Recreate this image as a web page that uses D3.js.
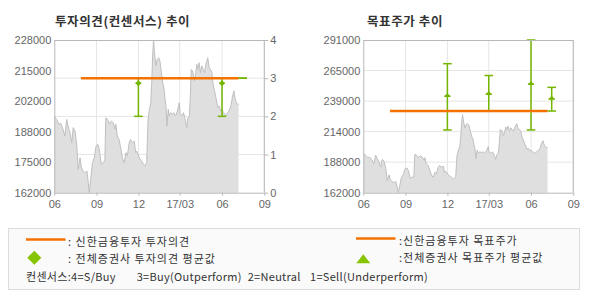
<!DOCTYPE html>
<html><head><meta charset="utf-8">
<script src="https://cdn.jsdelivr.net/npm/d3@7"></script>
<style>body{margin:0;background:#fff;} svg{display:block;}</style>
</head><body><svg id="c" width="590" height="300"></svg>
<script>
// ---------- data ----------
const priceDates = ["2016-06-01","2016-06-06","2016-06-11","2016-06-15","2016-06-20","2016-06-24","2016-06-28","2016-07-01","2016-07-05","2016-07-09","2016-07-12","2016-07-16","2016-07-20","2016-07-23","2016-07-27","2016-07-30","2016-08-03","2016-08-07","2016-08-11","2016-08-14","2016-08-16","2016-08-20","2016-08-23","2016-08-27","2016-08-31","2016-09-04","2016-09-07","2016-09-11","2016-09-15","2016-09-19","2016-09-21","2016-09-25","2016-09-29","2016-10-03","2016-10-07","2016-10-11","2016-10-13","2016-10-16","2016-10-20","2016-10-24","2016-10-27","2016-10-31","2016-11-04","2016-11-07","2016-11-11","2016-11-14","2016-11-18","2016-11-22","2016-11-25","2016-11-27","2016-11-30","2016-12-05","2016-12-08","2016-12-12","2016-12-15","2016-12-19","2016-12-22","2016-12-25","2016-12-28","2016-12-30","2017-01-01","2017-01-03","2017-01-05","2017-01-08","2017-01-11","2017-01-14","2017-01-17","2017-01-20","2017-01-23","2017-01-26","2017-01-28","2017-01-30","2017-02-01","2017-02-04","2017-02-06","2017-02-09","2017-02-13","2017-02-16","2017-02-20","2017-02-24","2017-02-28","2017-03-02","2017-03-06","2017-03-09","2017-03-13","2017-03-16","2017-03-19","2017-03-22","2017-03-24","2017-03-26","2017-03-29","2017-04-02","2017-04-05","2017-04-07","2017-04-09","2017-04-12","2017-04-15","2017-04-18","2017-04-21","2017-04-24","2017-04-27","2017-05-01","2017-05-04","2017-05-07","2017-05-10","2017-05-12","2017-05-15","2017-05-18","2017-05-21","2017-05-23","2017-05-26","2017-05-29","2017-06-01","2017-06-04","2017-06-07","2017-06-10","2017-06-13","2017-06-16","2017-06-19","2017-06-21","2017-06-24","2017-06-27","2017-06-29","2017-07-02","2017-07-05","2017-07-07"];
const priceValues = [195000,193700,191600,192000,189400,186500,193700,190800,188000,183600,190100,188700,182200,172100,177100,172800,171400,170600,171400,166300,162000,169200,175000,177100,182200,182900,180800,174300,175000,175700,194400,193700,191600,193000,192300,189400,191600,186500,185000,180800,177100,175000,179300,177900,183600,185000,183600,184300,179300,180000,178600,176400,175700,174300,173500,175000,193700,198000,200900,209500,221100,228000,222600,216800,219600,220300,218900,213900,209500,206700,202400,199500,190800,198000,195200,196600,195900,196600,195200,197300,200900,195900,195200,196600,193700,190100,194400,195200,203800,215300,214600,210300,213900,217500,215300,218200,213900,216800,215300,213900,217500,220300,216000,215300,213900,209500,206700,203800,200900,198700,199500,197300,198000,196600,195900,195200,196600,197300,198700,200200,203800,206000,203100,200900,200200,200200];

// Shinhan opinion / target price period
const shinhanPeriod = ["2016-07-29","2017-07-07"];
const shinhanOpinion = 3;
const shinhanTarget = 231000;

// consensus opinion (all brokers)
const opDates = ["2016-12-01","2017-06-01","2017-07-16"];
const opMin = [2,2,3];
const opMax = [3,3,3];
const opAvg = [2.87,2.87,null];

// consensus target price (all brokers)
const tpDates = ["2016-12-01","2017-03-01","2017-06-01","2017-07-16"];
const tpMin = [215000,231000,215000,231000];
const tpMax = [271000,261000,291000,251000];
const tpAvg = [243700,245400,253800,241400];

// axes
const xTickDates = ["2016-06-01","2016-09-01","2016-12-01","2017-03-01","2017-06-01","2017-09-01"];
const xTickLabels = ["06","09","12","17/03","06","09"];
const xDomainDates = ["2016-06-01","2017-09-01"];
const leftPriceRange = [162000,228000];
const leftPriceLabels = ["162000","175000","188000","202000","215000","228000"];
const opinionTicks = [0,1,2,3,4];
const rightPriceRange = [162000,291000];
const rightPriceLabels = ["162000","188000","214000","239000","265000","291000"];

const titles = ["투자의견(컨센서스) 추이","목표주가 추이"];
const legendItems = [": 신한금융투자 투자의견",": 전체증권사 투자의견 평균값",":신한금융투자 목표주가",":전체증권사 목표주가 평균값"];
const consensusNote = ["컨센서스:4=S/Buy","3=Buy(Outperform)","2=Neutral","1=Sell(Underperform)"];

// ---------- drawing ----------
const parse = d3.timeParse("%Y-%m-%d");
const svg = d3.select("#c");
const ORANGE = "#f37200", GREEN = "#74b500", AXIS = "#b8b8b8", GRID = "#e6e6e6", LABEL = "#666";
const FONT_NUM = "'Liberation Sans', Arial, sans-serif";
const FONT_KR = "'Noto Sans CJK KR', sans-serif";

const price = priceDates.map((d,i)=>({date:parse(d), v:priceValues[i]}));
const xTicks = xTickDates.map(parse);

function panel(box, priceRange, priceLabels, isLeft) {
  const g = svg.append("g");
  const x = d3.scaleTime().domain(xDomainDates.map(parse)).range([box.x0, box.x1]);
  const yP = d3.scaleLinear().domain(priceRange).range([box.y1, box.y0]);
  const yO = d3.scaleLinear().domain([0,4]).range([box.y1, box.y0]);
  const nLab = priceLabels.length - 1;
  const labVals = priceLabels.map((_,i)=>priceRange[0] + i*(priceRange[1]-priceRange[0])/nLab);

  // grid
  g.append("g").selectAll("line").data(xTicks.slice(1)).join("line")
    .attr("x1",d=>x(d)).attr("x2",d=>x(d)).attr("y1",box.y0).attr("y2",box.y1)
    .attr("stroke",GRID).attr("stroke-width",1);
  const hGrid = isLeft ? opinionTicks.slice(1,4).map(v=>yO(v)) : labVals.slice(1,5).map(v=>yP(v));
  g.append("g").selectAll("line").data(hGrid).join("line")
    .attr("x1",box.x0).attr("x2",box.x1).attr("y1",d=>d).attr("y2",d=>d)
    .attr("stroke",GRID).attr("stroke-width",1);

  // price area
  const area = d3.area().x(d=>x(d.date)).y0(box.y1).y1(d=>yP(d.v));
  const line = d3.line().x(d=>x(d.date)).y(d=>yP(d.v));
  g.append("path").datum(price).attr("d",area).attr("fill","#dfdfdf");
  g.append("path").datum(price).attr("d",line).attr("fill","none").attr("stroke","#c0c0c0").attr("stroke-width",1);

  // error bars
  const dates = isLeft ? opDates : tpDates;
  const mins = isLeft ? opMin : tpMin, maxs = isLeft ? opMax : tpMax, avgs = isLeft ? opAvg : tpAvg;
  const ys = isLeft ? yO : yP;
  dates.forEach((ds,i)=>{
    const cx = x(parse(ds));
    const eg = g.append("g").attr("stroke",GREEN).attr("stroke-width",1.5).attr("fill",GREEN);
    eg.append("line").attr("x1",cx).attr("x2",cx).attr("y1",ys(mins[i])).attr("y2",ys(maxs[i]));
    [mins[i],maxs[i]].forEach(v=>{
      eg.append("line").attr("x1",cx-4.3).attr("x2",cx+4.3).attr("y1",ys(v)).attr("y2",ys(v));
    });
    if (avgs[i] != null) {
      const ay = ys(avgs[i]);
      if (isLeft) {
        eg.append("path").attr("stroke","none")
          .attr("d",`M${cx},${ay-3}L${cx+3},${ay}L${cx},${ay+3}L${cx-3},${ay}Z`);
      } else {
        eg.append("path").attr("stroke","none")
          .attr("d",`M${cx},${ay-3}L${cx+3.5},${ay+1}L${cx-3.5},${ay+1}Z`);
      }
      eg.append("line").attr("x1",cx-3).attr("x2",cx+3).attr("y1",ay).attr("y2",ay).attr("stroke-width",1.2);
    }
  });

  // Shinhan line
  const sv = isLeft ? yO(shinhanOpinion) : yP(shinhanTarget);
  g.append("line").attr("x1",x(parse(shinhanPeriod[0]))).attr("x2",x(parse(shinhanPeriod[1])))
    .attr("y1",sv).attr("y2",sv).attr("stroke",ORANGE).attr("stroke-width",2.6);

  // frame
  g.append("line").attr("x1",box.x0).attr("x2",box.x1).attr("y1",box.y0+0.5).attr("y2",box.y0+0.5).attr("stroke",AXIS);
  g.append("line").attr("x1",box.x0+0.5).attr("x2",box.x0+0.5).attr("y1",box.y0).attr("y2",box.y1).attr("stroke",AXIS);
  g.append("line").attr("x1",box.x1).attr("x2",box.x1).attr("y1",box.y0).attr("y2",box.y1).attr("stroke",AXIS);

  // axes
  const ax = g.append("g").attr("transform",`translate(0,${box.y1})`)
    .call(d3.axisBottom(x).tickValues(xTicks).tickFormat((d,i)=>xTickLabels[i]).tickSize(3).tickPadding(5));
  ax.select(".domain").attr("stroke",AXIS).attr("d",`M${box.x0},0.5H${box.x1}`);
  ax.selectAll(".tick line").attr("stroke",AXIS);

  const ay = g.append("g").attr("transform",`translate(${box.x0},0)`)
    .call(d3.axisLeft(yP).tickValues(labVals).tickFormat((d,i)=>priceLabels[i]).tickSize(0).tickPadding(3));
  ay.select(".domain").remove();

  if (isLeft) {
    const ar = g.append("g").attr("transform",`translate(${box.x1},0)`)
      .call(d3.axisRight(yO).tickValues(opinionTicks).tickFormat(d3.format("d")).tickSize(4).tickPadding(2));
    ar.select(".domain").remove();
    ar.selectAll(".tick line").attr("stroke",AXIS);
  }
  g.selectAll(".tick text").attr("fill",LABEL).style("font-family",FONT_NUM).style("font-size","11px");
}

panel({x0:54.3,x1:264.3,y0:40,y1:192.7}, leftPriceRange, leftPriceLabels, true);
panel({x0:363.3,x1:573.3,y0:40,y1:192.7}, rightPriceRange, rightPriceLabels, false);

// titles
svg.selectAll("text.title").data(titles).join("text").attr("class","title")
  .attr("x",(d,i)=>i===0?55:367).attr("y",25.5)
  .style("font-family",FONT_KR).style("font-size","12.5px").style("font-weight","bold")
  .style("letter-spacing","0.6px").attr("fill","#333").text(d=>d);

// legend
const lg = svg.append("g");
lg.append("rect").attr("x",8.5).attr("y",228.5).attr("width",571).attr("height",61)
  .attr("fill","#fafafa").attr("stroke","#dcdcdc");
lg.append("line").attr("x1",26).attr("x2",65.5).attr("y1",239.5).attr("y2",239.5).attr("stroke",ORANGE).attr("stroke-width",2.5);
lg.append("line").attr("x1",356).attr("x2",395.5).attr("y1",238.5).attr("y2",238.5).attr("stroke",ORANGE).attr("stroke-width",2.5);
lg.append("path").attr("d","M34.3,250.7L41.3,257.7L34.3,264.7L27.3,257.7Z").attr("fill","#86c400");
lg.append("path").attr("d","M363.3,254.3L370.3,263.3L356.3,263.3Z").attr("fill","#86c400");
const legPos = [[68,245.5],[68,262.5],[399,245],[399,262]];
lg.selectAll("text.li").data(legendItems).join("text").attr("class","li")
  .attr("x",(d,i)=>legPos[i][0]).attr("y",(d,i)=>legPos[i][1])
  .style("font-family",FONT_KR).style("font-size","11px").style("letter-spacing","1px")
  .attr("fill","#333").text(d=>d);
const notePos = [26,136.7,247.7,310];
lg.selectAll("text.note").data(consensusNote).join("text").attr("class","note")
  .attr("x",(d,i)=>notePos[i]).attr("y",280.5)
  .style("font-family",FONT_KR).style("font-size","11px").style("letter-spacing","0.3px")
  .attr("fill","#333").text(d=>d);
</script></body></html>
